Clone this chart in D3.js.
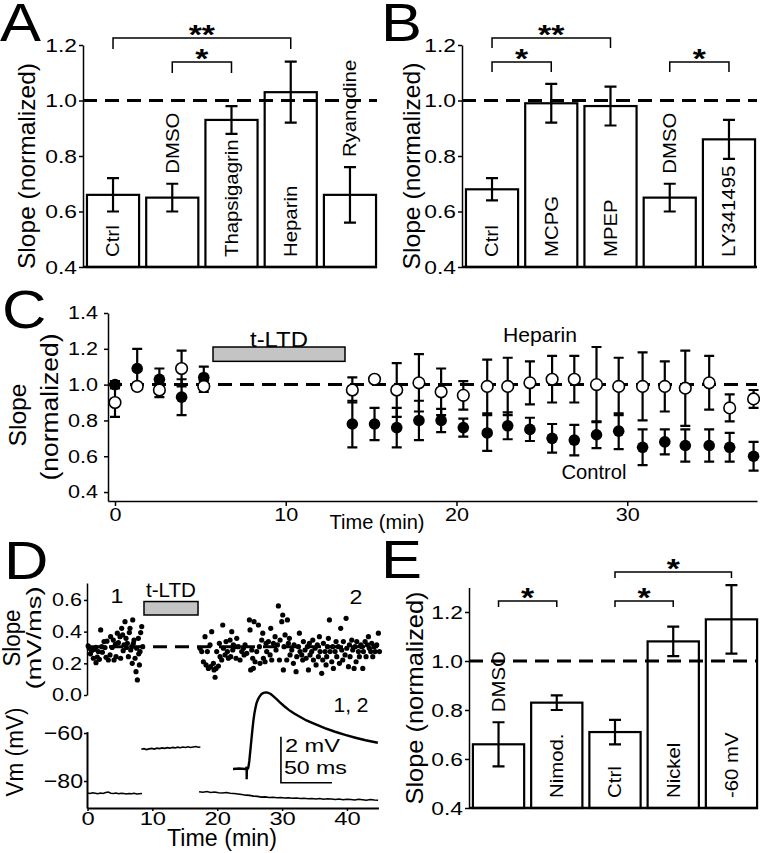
<!DOCTYPE html>
<html><head><meta charset="utf-8">
<script src="https://cdn.jsdelivr.net/npm/d3@7"></script>
<style>
body{margin:0;background:#fff}
svg{display:block;font-family:"Liberation Sans",Arial,Helvetica,sans-serif}
</style>
</head><body>
<svg id="fig" width="760" height="853"></svg>
<script>
// ---------------- DATA ----------------
// Panel A
const catsA = ["Ctrl","DMSO","Thapsigagrin","Heparin","Ryanodine"];
const meanA = [0.66,0.65,0.93,1.03,0.66];
const semA  = [0.06,0.05,0.05,0.11,0.10];
const sigA  = [{a:"Ctrl",b:"Heparin",label:"**",level:1.225},{a:"DMSO",b:"Thapsigagrin",label:"*",level:1.139}];
// Panel B
const catsB = ["Ctrl","MCPG","MPEP","DMSO","LY341495"];
const meanB = [0.68,0.99,0.98,0.65,0.86];
const semB  = [0.04,0.07,0.07,0.05,0.07];
const sigB  = [{a:"Ctrl",b:"MPEP",label:"**",level:1.225},{a:"Ctrl",b:"MCPG",label:"*",level:1.139},{a:"DMSO",b:"LY341495",label:"*",level:1.139}];
// Panel E
const catsE = ["DMSO","Nimod.","Ctrl","Nickel","-60 mV"];
const meanE = [0.66,0.83,0.71,1.08,1.17];
const semE  = [0.09,0.03,0.05,0.06,0.14];
const sigE  = [{a:"DMSO",b:"Nimod.",label:"*",level:1.245},{a:"Ctrl",b:"Nickel",label:"*",level:1.245},{a:"Ctrl",b:"-60 mV",label:"*",level:1.363}];
const barTicks = [0.4,0.6,0.8,1.0,1.2];

// Panel C (time in min)
const timeC   = [0,1.3,2.6,3.9,5.2,13.9,15.2,16.5,17.8,19.1,20.4,21.8,23.0,24.3,25.6,26.9,28.2,29.5,30.9,32.2,33.4,34.8,36.0,37.4];
const ctrlMean= [1.00,1.09,1.03,0.93,1.04,0.78,0.78,0.76,0.80,0.80,0.76,0.73,0.77,0.75,0.70,0.69,0.72,0.74,0.65,0.68,0.66,0.66,0.65,0.60];
const ctrlSem = [0.02,0.11,0.06,0.10,0.06,0.13,0.09,0.11,0.11,0.065,0.05,0.10,0.075,0.065,0.08,0.085,0.075,0.10,0.10,0.07,0.09,0.09,0.08,0.08];
const hepMean = [0.90,0.99,0.97,1.09,0.99,0.97,1.03,0.97,1.01,0.96,0.94,0.99,0.99,1.01,1.03,1.03,1.00,0.99,0.99,0.99,0.98,1.01,0.87,0.92];
const hepSem  = [0.08,0.02,0.04,0.10,0.03,0.07,0.01,0.15,0.16,0.13,0.08,0.15,0.16,0.12,0.13,0.13,0.21,0.16,0.19,0.14,0.21,0.15,0.075,0.05];
const tltdC = [5.74,13.47];
const cTicksY = [0.4,0.6,0.8,1.0,1.2,1.4];
const cTicksX = [0,10,20,30];

// Panel D
const slopePre = [[0.1,0.31],[0.28,0.295],[0.45,0.26],[0.64,0.28],[0.9,0.232],[1.0,0.288],[1.31,0.301],[1.31,0.204],[1.5,0.24],[1.67,0.274],[1.83,0.225],[2.03,0.411],[2.19,0.305],[2.3,0.27],[2.55,0.337],[2.7,0.30],[2.85,0.238],[3.0,0.34],[3.21,0.221],[3.47,0.253],[3.57,0.368],[3.8,0.30],[3.98,0.347],[4.09,0.221],[4.3,0.32],[4.4,0.242],[4.6,0.39],[4.76,0.33],[5.01,0.368],[5.11,0.232],[5.27,0.421],[5.42,0.379],[5.5,0.28],[5.63,0.316],[5.78,0.463],[5.94,0.358],[6.0,0.30],[6.14,0.326],[6.3,0.242],[6.45,0.394],[6.55,0.421],[6.66,0.284],[6.81,0.305],[6.9,0.20],[6.97,0.474],[7.07,0.326],[7.17,0.347],[7.33,0.232],[7.48,0.147],[7.58,0.295],[7.69,0.095],[7.84,0.358],[7.9,0.26],[8.0,0.19],[8.1,0.274],[8.2,0.394],[8.36,0.432],[8.51,0.305]];
const slopePost = [[17.35,0.295],[17.61,0.274],[17.87,0.21],[18.12,0.368],[18.28,0.19],[18.48,0.274],[18.64,0.168],[18.89,0.316],[18.99,0.179],[19.15,0.40],[19.41,0.20],[19.51,0.158],[19.67,0.112],[19.82,0.168],[19.92,0.274],[20.18,0.183],[20.33,0.326],[20.44,0.242],[20.69,0.221],[20.85,0.442],[20.95,0.295],[21.21,0.253],[21.36,0.337],[21.57,0.274],[21.72,0.232],[21.98,0.347],[22.08,0.242],[22.24,0.40],[22.39,0.284],[22.49,0.316],[22.75,0.305],[22.90,0.232],[23.01,0.358],[23.26,0.305],[23.52,0.221],[23.78,0.274],[24.03,0.295],[24.14,0.253],[24.29,0.316],[24.55,0.263],[24.96,0.474],[25.06,0.411],[25.16,0.158],[25.32,0.284],[25.47,0.232],[25.58,0.168],[25.68,0.463],[25.83,0.21],[26.09,0.274],[26.35,0.442],[26.5,0.305],[26.6,0.20],[26.86,0.347],[27.02,0.39],[27.12,0.232],[27.38,0.21],[27.53,0.326],[27.63,0.274],[27.89,0.337],[28.15,0.253],[28.25,0.421],[28.40,0.221],[28.66,0.326],[28.92,0.368],[29.07,0.284],[29.28,0.316],[29.43,0.562],[29.59,0.221],[29.69,0.347],[29.95,0.463],[30.1,0.505],[30.2,0.158],[30.3,0.305],[30.46,0.379],[30.72,0.221],[30.82,0.474],[30.97,0.326],[31.13,0.358],[31.23,0.253],[31.49,0.284],[31.74,0.20],[31.85,0.316],[32.16,0.147],[32.26,0.242],[32.52,0.305],[32.67,0.39],[32.77,0.274],[33.03,0.253],[33.18,0.221],[33.29,0.337],[33.54,0.284],[33.7,0.232],[33.90,0.305],[34.06,0.158],[34.21,0.326],[34.31,0.253],[34.57,0.274],[34.73,0.347],[34.83,0.221],[35.09,0.295],[35.24,0.19],[35.44,0.316],[35.6,0.242],[35.75,0.368],[35.86,0.274],[36.11,0.137],[36.27,0.221],[36.37,0.326],[36.63,0.274],[36.78,0.19],[36.88,0.242],[36.99,0.305],[37.14,0.358],[37.3,0.474],[37.4,0.274],[37.66,0.21],[37.81,0.305],[37.91,0.168],[38.17,0.274],[38.32,0.337],[38.43,0.242],[38.68,0.305],[38.84,0.20],[39.04,0.421],[39.2,0.284],[39.35,0.221],[39.45,0.337],[39.71,0.253],[39.87,0.484],[39.97,0.295],[40.23,0.179],[40.38,0.316],[40.48,0.242],[40.74,0.347],[40.89,0.284],[41.1,0.168],[41.25,0.305],[41.41,0.21],[41.51,0.337],[41.77,0.274],[41.92,0.242],[42.13,0.316],[42.28,0.305],[42.44,0.168],[42.54,0.274],[42.8,0.337],[42.95,0.242],[43.15,0.316],[43.31,0.368],[43.46,0.295],[43.67,0.274],[43.82,0.326],[43.98,0.242],[44.18,0.305],[44.34,0.274],[44.59,0.316],[44.85,0.39],[45.01,0.274]];
const slopeBaseline = 0.305;
const tltdD = [8.71,17.04];
const dSlopeTicks = [0.0,0.2,0.4,0.6];
const dVmTicks = [-60,-80];
const dTimeTicks = [0,10,20,30,40];
const vmPre = [[0,-85.0],[0.4,-85.2],[0.8,-84.9],[1.2,-85.1],[1.6,-85.3],[2.0,-85.0],[2.4,-85.2],[2.8,-84.8],[3.2,-84.6],[3.6,-85.1],[4.0,-85.2],[4.4,-85.0],[4.8,-85.3],[5.2,-85.1],[5.6,-85.2],[6.0,-85.4],[6.4,-85.2],[6.8,-85.3],[7.2,-85.1],[7.6,-85.4],[8.0,-85.3],[8.4,-85.2]];
const vmMid = [[8.3,-66.8],[8.7,-66.5],[9.1,-66.9],[9.5,-66.6],[9.9,-66.4],[10.3,-66.7],[10.7,-66.3],[11.1,-66.5],[11.5,-66.2],[11.9,-66.4],[12.3,-66.1],[12.7,-66.3],[13.1,-66.0],[13.5,-66.2],[13.9,-65.9],[14.3,-66.1],[14.7,-65.8],[15.1,-66.0],[15.5,-65.7],[15.9,-66.0],[16.3,-65.8],[16.7,-65.6],[17.1,-65.9],[17.4,-65.8]];
const vmPost = [[17.2,-84.5],[17.8,-84.7],[18.4,-84.4],[19.0,-84.8],[19.6,-84.6],[20.2,-84.9],[20.8,-85.0],[21.4,-84.8],[22.0,-85.1],[22.6,-85.2],[23.2,-85.4],[23.8,-85.6],[24.4,-85.9],[25.0,-86.0],[25.6,-86.3],[26.2,-86.4],[26.8,-86.7],[27.4,-86.6],[28.0,-86.9],[28.6,-86.8],[29.2,-87.0],[29.8,-86.9],[30.4,-87.1],[31.0,-87.0],[31.6,-87.2],[32.2,-87.1],[32.8,-87.3],[33.4,-87.2],[34.0,-87.4],[34.6,-87.3],[35.2,-87.5],[35.8,-87.3],[36.4,-87.6],[37.0,-87.4],[37.6,-87.5],[38.2,-87.7],[38.8,-87.5],[39.4,-87.8],[40.0,-87.6],[40.6,-87.7],[41.2,-87.9],[41.8,-87.6],[42.4,-87.8],[43.0,-88.0],[43.6,-87.7],[44.2,-87.9],[44.8,-88.0]];
// EPSP inset (ms, mV)
const epsp = [[0,0],[6,0.02],[12,0],[13.3,0.05],[13.4,0.1],[13.4,-0.45],[13.6,0.0],[14.2,0.0],[15,0.05],[16,0.35],[17,0.8],[18,1.25],[19,1.7],[20,2.1],[21,2.42],[22,2.65],[23,2.85],[24.5,3.03],[26,3.15],[28,3.26],[30,3.31],[32,3.33],[34,3.32],[37,3.26],[40,3.15],[43,3.03],[46,2.9],[50,2.74],[55,2.56],[60,2.41],[66,2.26],[72,2.11],[80,1.96],[90,1.78],[100,1.62],[110,1.48],[120,1.36],[130,1.25],[142,1.14]];
const scaleBarMv = 2, scaleBarMs = 50;

// ---------------- HELPERS ----------------
const svg = d3.select('#fig');
function stretch(sel, k){
  sel.each(function(){
    const L = this.getComputedTextLength();
    d3.select(this).attr('textLength',(L*k).toFixed(1)).attr('lengthAdjust','spacingAndGlyphs');
  });
  return sel;
}
function txt(g, x, y, s, fs, o={}){
  const t = g.append('text').attr('x',x).attr('y',y).attr('font-size',fs)
    .attr('text-anchor',o.anchor||'middle').attr('dy',o.dy===undefined?'0.35em':o.dy).attr('fill','#000').text(s);
  if (o.weight) t.attr('font-weight',o.weight);
  if (o.rotate) t.attr('transform',`rotate(${o.rotate},${x},${y})`);
  if (o.len) t.attr('textLength',o.len).attr('lengthAdjust','spacingAndGlyphs');
  else if (o.k) stretch(t,o.k);
  return t;
}
function styleAxis(a, fs, k){
  a.attr('font-size',null).attr('font-family',null);
  a.select('.domain').attr('stroke','#000').attr('stroke-width',1.5);
  a.selectAll('.tick line').attr('stroke','#000').attr('stroke-width',1.5);
  const t = a.selectAll('.tick text').attr('font-size',fs).attr('fill','#000');
  stretch(t,k);
  return a;
}
function line(g,x1,y1,x2,y2,w,dash){
  const l = g.append('line').attr('x1',x1).attr('y1',y1).attr('x2',x2).attr('y2',y2).attr('stroke','#000').attr('stroke-width',w);
  if (dash) l.attr('stroke-dasharray',dash);
  return l;
}
function star(g, cx, bracketY, s){
  const fs = 27;
  const t = g.append('text').attr('x',cx).attr('y',bracketY - 9 + 0.57*fs).attr('text-anchor','middle')
    .attr('font-size',fs).attr('font-weight','bold').attr('fill','#000').text(s);
  stretch(t,1.25);
}

function barPanel(cfg){
  const g = svg.append('g');
  const x = d3.scaleBand().domain(cfg.cats).range(cfg.xr).paddingInner(0.12).paddingOuter(0.05);
  const y = d3.scaleLinear().domain(cfg.yd).range(cfg.yr);
  const rows = cfg.cats.map((c,i)=>({c, m:cfg.mean[i], s:cfg.sem[i]}));
  const cx = c => x(c) + x.bandwidth()/2;
  const y0 = y(cfg.yd[0]);
  g.selectAll('rect.bar').data(rows).join('rect').attr('class','bar')
    .attr('x',d=>x(d.c)).attr('width',x.bandwidth()).attr('y',d=>y(d.m)).attr('height',d=>y0-y(d.m))
    .attr('fill','#fff').attr('stroke','#000').attr('stroke-width',2.2);
  line(g, cfg.axisX, y(1), cfg.xEnd, y(1), 3, '14,8');
  const cw = 6;
  g.selectAll('path.err').data(rows).join('path').attr('class','err')
    .attr('d',d=>`M${cx(d.c)},${y(d.m-d.s)}V${y(d.m+d.s)}M${cx(d.c)-cw},${y(d.m+d.s)}H${cx(d.c)+cw}M${cx(d.c)-cw},${y(d.m-d.s)}H${cx(d.c)+cw}`)
    .attr('stroke','#000').attr('stroke-width',2.2).attr('fill','none');
  const a = g.append('g').attr('transform',`translate(${cfg.axisX},0)`)
    .call(d3.axisLeft(y).tickValues(barTicks).tickFormat(d3.format('.1f')).tickSize(4).tickPadding(2).tickSizeOuter(0));
  styleAxis(a,19,1.2);
  line(g, cfg.axisX, y0, cfg.xEnd, y0, 2.5);
  rows.forEach(d=>{
    const t = g.append('text').attr('font-size',18.5).attr('fill','#000').attr('text-anchor','start').attr('dy','0.35em').text(d.c);
    stretch(t,1.1);
    const L = +t.attr('textLength');
    const h = y0 - y(d.m);
    const ys = (L + 14 < h) ? y0 - 10 : y(d.m+d.s) - 10;
    t.attr('x',cx(d.c)).attr('y',ys).attr('transform',`rotate(-90,${cx(d.c)},${ys})`);
  });
  cfg.sig.forEach(s=>{
    const xa = cx(s.a), xb = cx(s.b), yy = y(s.level);
    g.append('path').attr('d',`M${xa},${yy+cfg.drop}V${yy}H${xb}V${yy+cfg.drop}`).attr('fill','none').attr('stroke','#000').attr('stroke-width',1.5);
    star(g,(xa+xb)/2,yy,s.label);
  });
  txt(g, cfg.ylab[0], cfg.ylab[1], 'Slope (normalized)', 24, {rotate:-90, len:cfg.ylab[2]});
  return g;
}

// ---------------- PANEL LETTERS ----------------
const lg = svg.append('g');
[['A',0,41],['B',381,41],['C',2,328],['D',4,579],['E',381,578]].forEach(([s,x,y])=>{
  txt(lg,x,y,s,53,{anchor:'start',dy:0,k:1.16});
});

// ---------------- A, B, E ----------------
barPanel({cats:catsA, mean:meanA, sem:semA, sig:sigA, xr:[84,379], yd:[0.4,1.2], yr:[267,45], axisX:83, xEnd:377, drop:11, ylab:[27,166,206]});
barPanel({cats:catsB, mean:meanB, sem:semB, sig:sigB, xr:[463,758], yd:[0.4,1.2], yr:[267,45], axisX:462, xEnd:757, drop:10, ylab:[412,166,207]});
barPanel({cats:catsE, mean:meanE, sem:semE, sig:sigE, xr:[470,760], yd:[0.4,1.3], yr:[808,587.5], axisX:469, xEnd:758, drop:6, ylab:[415,698,213]});

// ---------------- C ----------------
(function(){
  const g = svg.append('g');
  const x = d3.scaleLinear().domain([-0.41,37.6]).range([108,757]);
  const y = d3.scaleLinear().domain([0.35,1.4]).range([501,313]);
  line(g, 108, y(1), 757, y(1), 3, '14,8');
  g.append('rect').attr('x',x(tltdC[0])).attr('width',x(tltdC[1])-x(tltdC[0]))
    .attr('y',y(1.21)).attr('height',y(1.13)-y(1.21)).attr('fill','#c4c4c4').attr('stroke','#000').attr('stroke-width',1.5);
  txt(g, (x(tltdC[0])+x(tltdC[1]))/2, 339, 't-LTD', 22, {len:58});
  const ctrl = timeC.map((t,i)=>({t, m:ctrlMean[i], s:ctrlSem[i]}));
  const hep  = timeC.map((t,i)=>({t, m:hepMean[i], s:hepSem[i]}));
  const cw = 5;
  const errPath = d=>`M${x(d.t)},${y(d.m-d.s)}V${y(d.m+d.s)}M${x(d.t)-cw},${y(d.m+d.s)}H${x(d.t)+cw}M${x(d.t)-cw},${y(d.m-d.s)}H${x(d.t)+cw}`;
  g.selectAll('path.ec').data(ctrl).join('path').attr('class','ec').attr('d',errPath).attr('stroke','#000').attr('stroke-width',2.2).attr('fill','none');
  g.selectAll('path.eh').data(hep).join('path').attr('class','eh').attr('d',errPath).attr('stroke','#000').attr('stroke-width',2.2).attr('fill','none');
  g.selectAll('circle.c').data(ctrl).join('circle').attr('class','c').attr('cx',d=>x(d.t)).attr('cy',d=>y(d.m)).attr('r',5.8).attr('fill','#000');
  g.selectAll('circle.h').data(hep).join('circle').attr('class','h').attr('cx',d=>x(d.t)).attr('cy',d=>y(d.m)).attr('r',5.8).attr('fill','#fff').attr('stroke','#000').attr('stroke-width',1.6);
  const ay = g.append('g').attr('transform','translate(108,0)')
    .call(d3.axisLeft(y).tickValues(cTicksY).tickFormat(d3.format('.1f')).tickSize(4).tickPadding(6).tickSizeOuter(0));
  styleAxis(ay,18,1.2);
  const ax = g.append('g').attr('transform','translate(0,501)')
    .call(d3.axisBottom(x).tickValues(cTicksX).tickFormat(d3.format('d')).tickSize(5).tickPadding(2).tickSizeOuter(0));
  styleAxis(ax,18,1.2);
  txt(g, 377, 522, 'Time (min)', 20, {len:95});
  txt(g, 540, 335, 'Heparin', 21, {len:74});
  txt(g, 594, 472, 'Control', 20, {len:65});
  txt(g, 18, 415, 'Slope', 24, {rotate:-90, len:63});
  txt(g, 50, 407, '(normalized)', 23, {rotate:-90, len:147});
})();

// ---------------- D ----------------
(function(){
  const g = svg.append('g');
  const x = d3.scaleLinear().domain([0,44.85]).range([87.5,378.4]);
  const yS = d3.scaleLinear().domain([0,0.707]).range([695,583]);
  const yV = d3.scaleLinear().domain([-91.25,-59.4]).range([808,731.6]);
  line(g, 87, yS(slopeBaseline), 378, yS(slopeBaseline), 3, '14,8');
  g.selectAll('circle.p').data(slopePre.concat(slopePost)).join('circle').attr('class','p')
    .attr('cx',d=>x(d[0])).attr('cy',d=>yS(d[1])).attr('r',2.6).attr('fill','#000');
  g.append('rect').attr('x',x(tltdD[0])).attr('width',x(tltdD[1])-x(tltdD[0]))
    .attr('y',yS(0.59)).attr('height',yS(0.505)-yS(0.59)).attr('fill','#c4c4c4').attr('stroke','#000').attr('stroke-width',1.5);
  txt(g,(x(tltdD[0])+x(tltdD[1]))/2,590,'t-LTD',20,{len:50});
  txt(g,117,596,'1',21,{k:1.1});
  txt(g,356,597,'2',21,{k:1.1});
  const a1 = g.append('g').attr('transform','translate(87,0)')
    .call(d3.axisLeft(yS).tickValues(dSlopeTicks).tickFormat(d3.format('.1f')).tickSize(3).tickPadding(2).tickSizeOuter(0));
  styleAxis(a1,18,1.2);
  txt(g,12,638,'Slope',23,{rotate:-90,len:57});
  txt(g,34,638,'(mV/ms)',21,{rotate:-90,len:103});
  const vl = d3.line().x(d=>x(d[0])).y(d=>yV(d[1]));
  [vmPre, vmMid, vmPost].forEach(arr=>{
    g.append('path').attr('d',vl(arr)).attr('fill','none').attr('stroke','#000').attr('stroke-width',1.6);
  });
  const a2 = g.append('g').attr('transform','translate(87,0)')
    .call(d3.axisLeft(yV).tickValues(dVmTicks).tickFormat(d3.format('d')).tickSize(3).tickPadding(1).tickSizeOuter(0));
  styleAxis(a2,21,1.1);
  const a3 = g.append('g').attr('transform','translate(0,808)')
    .call(d3.axisBottom(x).tickValues(dTimeTicks).tickFormat(d3.format('d')).tickSize(3).tickPadding(1).tickSizeOuter(0));
  styleAxis(a3,19,1.25);
  a3.select('.domain').attr('stroke-width',2);
  a2.select('.domain').attr('stroke-width',2);
  txt(g,222,838,'Time (min)',23,{len:110});
  txt(g,15,752,'Vm (mV)',23,{rotate:-90,len:89});
  const ex = d3.scaleLinear().domain([0,50]).range([233,284]);
  const ey = d3.scaleLinear().domain([0,2]).range([769,723]);
  g.append('path').attr('d',d3.line().x(d=>ex(d[0])).y(d=>ey(d[1]))(epsp)).attr('fill','none').attr('stroke','#000').attr('stroke-width',2.4);
  const sbx = ex(47), sby = ey(-0.6);
  g.append('path').attr('d',`M${sbx},${sby - (ey(0)-ey(scaleBarMv))}V${sby}H${sbx + (ex(scaleBarMs)-ex(0))}`)
    .attr('fill','none').attr('stroke','#000').attr('stroke-width',1.6);
  txt(g,sbx+4,745,scaleBarMv+' mV',19,{anchor:'start',len:55});
  txt(g,sbx+3,767,scaleBarMs+' ms',19,{anchor:'start',len:63});
  txt(g,351,705,'1, 2',21,{len:35});
})();
</script>
</body></html>
